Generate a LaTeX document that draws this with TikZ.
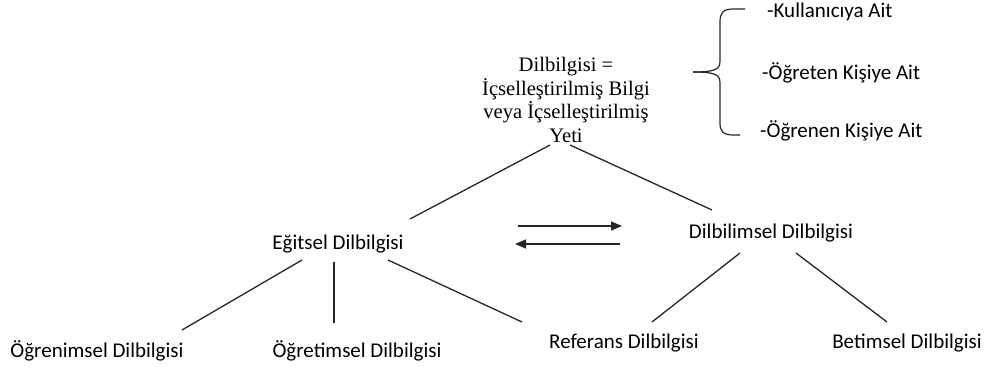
\documentclass[tikz,border=0pt]{standalone}
\usepackage{fontspec}
\setmainfont{Carlito}
\newfontfamily\serifface{Liberation Serif}
\usetikzlibrary{calc,arrows.meta}
\begin{document}
\begin{tikzpicture}[x=1pt,y=-1pt,
  lbl/.style={font=\fontsize{21}{25}\selectfont, inner sep=0pt, anchor=base, text=black},
  side/.style={lbl, anchor=base west},
  conn/.style={draw=black!85, line width=1.3pt},
  arr/.style={conn, -{Triangle[length=11pt,width=9pt]}}]
\useasboundingbox (0,0) rectangle (986,367);
\node[inner sep=0pt, align=center, text=black,
      font=\serifface\fontsize{20.6}{23.6}\selectfont] (top) at (566,100)
  {Dilbilgisi =\\İçselleştirilmiş Bilgi\\veya İçselleştirilmiş\\Yeti};
\node[lbl] (egit) at (338,249) {Eğitsel Dilbilgisi};
\node[lbl] (dilb) at (771,238) {Dilbilimsel Dilbilgisi};
\node[lbl] (ogren) at (97,357) {Öğrenimsel Dilbilgisi};
\node[lbl] (ogret) at (357,357) {Öğretimsel Dilbilgisi};
\node[lbl] (ref) at (624,348) {Referans Dilbilgisi};
\node[lbl] (bet) at (907,348) {Betimsel Dilbilgisi};
\node[side] (k1) at (767,17) {-Kullanıcıya Ait};
\node[side] (k2) at (762,79) {-Öğreten Kişiye Ait};
\node[side] (k3) at (760,137) {-Öğrenen Kişiye Ait};
% brace
\draw[conn, line width=1.2pt] (745,9) -- (733,9) .. controls (723,9) and (720,13) .. (720,22) -- (720,61) .. controls (720,69) and (716,72) .. (693,72);
\draw[conn, line width=1.2pt] (693,72) .. controls (716,72) and (720,75) .. (720,83) -- (720,123) .. controls (720,131) and (723,135) .. (733,135) -- (740,135);
% connectors
\draw[conn] ($(top.center)+(-16,45)$) -- ($(egit.base)+(72,-30)$);
\draw[conn] ($(top.center)+(4,45)$) -- ($(dilb.base)+(-59,-28)$);
\draw[conn] ($(egit.base)+(-36,11)$) -- ($(ogren.base)+(85,-27)$);
\draw[conn] ($(egit.base)+(-4,13)$) -- ($(ogret.base)+(-23,-34)$);
\draw[conn] ($(egit.base)+(50,11)$) -- ($(ref.base)+(-102,-26)$);
\draw[conn] ($(dilb.base)+(-31,15)$) -- ($(ref.base)+(28,-26)$);
\draw[conn] ($(dilb.base)+(25,15)$) -- ($(bet.base)+(-20,-26)$);
\draw[arr] ($(egit.base)+(180,-23)$) -- ($(dilb.base)+(-149,-12)$);
\draw[arr] ($(dilb.base)+(-151,6)$) -- ($(egit.base)+(177,-5)$);
\end{tikzpicture}
\end{document}
